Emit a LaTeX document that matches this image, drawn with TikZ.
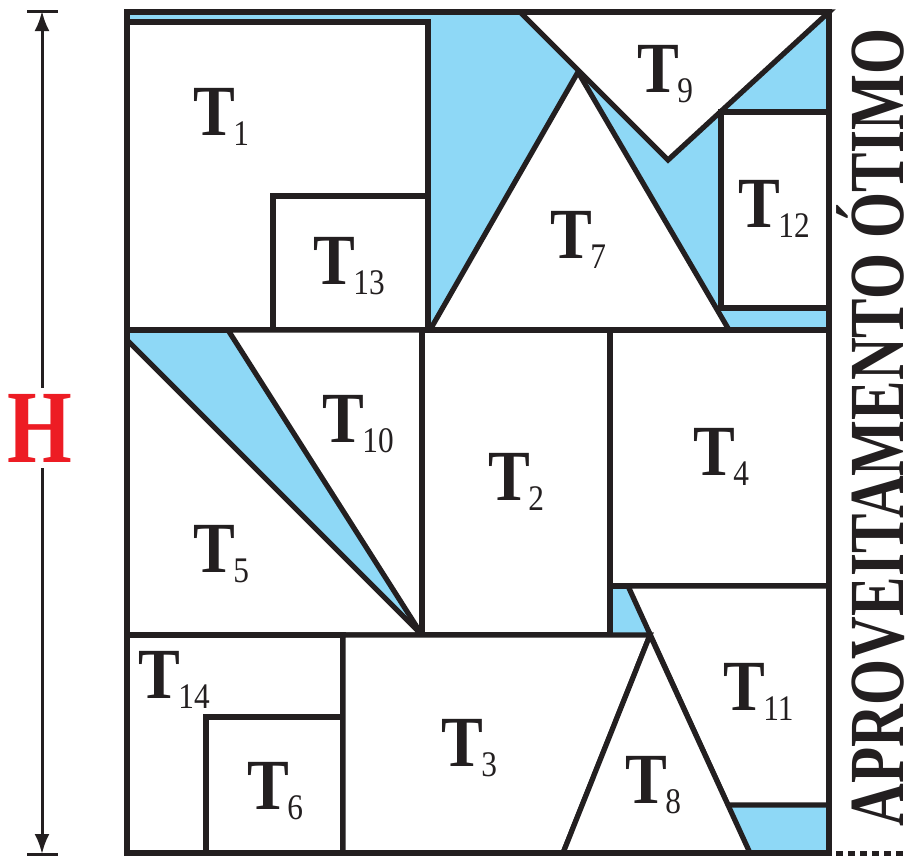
\documentclass[tikz,border=0pt]{standalone}
\usepackage{fontspec}
\setmainfont{Liberation Serif}
\usepackage{tikz}
\usepackage{xcolor}
\usepackage{graphicx}
\usetikzlibrary{arrows.meta}

\definecolor{sobra}{RGB}{142,216,246}
\definecolor{tinta}{RGB}{35,31,32}
\definecolor{vermelho}{RGB}{237,28,36}

\newcommand{\etiq}[1]{\scalebox{0.87}[1]{\textbf{T}\kern-1pt\raisebox{-5.3pt}{\fontsize{18}{18}\selectfont #1}}}

\begin{document}
\begin{tikzpicture}[x=0.5pt, y=-0.5pt, line join=miter,
    borda/.style={draw=tinta, line width=2.6pt},
    peca/.style={borda, fill=white},
    rotulo/.style={anchor=base west, inner sep=0pt, text=tinta, font=\fontsize{36}{36}\selectfont}]
  \useasboundingbox (0,0) rectangle (908,857);

  % chapa inteira (o que sobra fica azul)
  \fill[sobra] (127,12) rectangle (829,853);

  % faixa de cima
  \draw[peca] (127,22) rectangle (428,330);
  \draw[peca] (273,196) rectangle (428,330);
  \draw[peca] (520,12) -- (829,12) -- (668,160) -- cycle;
  \draw[peca] (430,330) -- (578,72) -- (729,330) -- cycle;
  \draw[peca] (721,112) rectangle (829,308);

  % faixa do meio
  \draw[peca] (228,330) -- (422,330) -- (422,635) -- cycle;
  \draw[peca] (127,340) -- (422,635) -- (127,635) -- cycle;
  \draw[peca] (422,330) rectangle (610,635);
  \draw[peca] (610,330) rectangle (829,586);
  \draw[peca] (628,586) -- (829,586) -- (829,805) -- (728,805) -- cycle;

  % faixa de baixo
  \draw[peca] (127,635) rectangle (343,853);
  \draw[peca] (206,717) rectangle (343,853);
  \draw[peca] (343,635) -- (650,635) -- (563,853) -- (343,853) -- cycle;
  \draw[peca] (650,635) -- (750,853) -- (563,853) -- cycle;

  % contorno da chapa
  \draw[borda] (127,12) rectangle (829,853);

  % rotulos das pecas
  \node[rotulo] (t1)  at (193,135) {\etiq{1}};
  \node[rotulo] (t2)  at (488,500) {\etiq{2}};
  \node[rotulo] (t3)  at (441,766) {\etiq{3}};
  \node[rotulo] (t4)  at (693,475) {\etiq{4}};
  \node[rotulo] (t5)  at (193,572) {\etiq{5}};
  \node[rotulo] (t6)  at (247,809) {\etiq{6}};
  \node[rotulo] (t7)  at (550,258) {\etiq{7}};
  \node[rotulo] (t8)  at (625,803) {\etiq{8}};
  \node[rotulo] (t9)  at (637,92)  {\etiq{9}};
  \node[rotulo] (t10) at (322,442) {\etiq{10}};
  \node[rotulo] (t11) at (723,710) {\etiq{11}};
  \node[rotulo] (t12) at (738,227) {\etiq{12}};
  \node[rotulo] (t13) at (313,284) {\etiq{13}};
  \node[rotulo] (t14) at (138,698) {\etiq{14}};

  % cota da altura H
  \coordinate (topo) at (42,11);
  \coordinate (base) at (42,854);
  \draw[tinta, line width=1.5pt] (27,11) -- (58,11);
  \draw[tinta, line width=1.5pt] (27,854) -- (58,854);
  \draw[tinta, line width=1.5pt, {Latex[length=10pt,width=7.5pt]}-{Latex[length=10pt,width=7.5pt]}] (topo) -- (base);
  \node[fill=white, text=vermelho, inner sep=3pt, font=\fontsize{52}{52}\selectfont\bfseries] (altura) at (40,428) {\scalebox{0.8}[1]{H}};

  % texto lateral
  \node[rotate=90, anchor=base west, inner sep=0pt, text=tinta] (titulo) at (903,827)
    {\resizebox{399pt}{\height}{\fontsize{39}{39}\selectfont\bfseries APROVEITAMENTO ÓTIMO}};
  \coordinate (canto) at (836,853);
  \coordinate (fim) at (908,853);
  \draw[tinta, line width=2.5pt, dash pattern=on 3.5pt off 2.5pt] (canto) -- (fim);
\end{tikzpicture}
\end{document}
